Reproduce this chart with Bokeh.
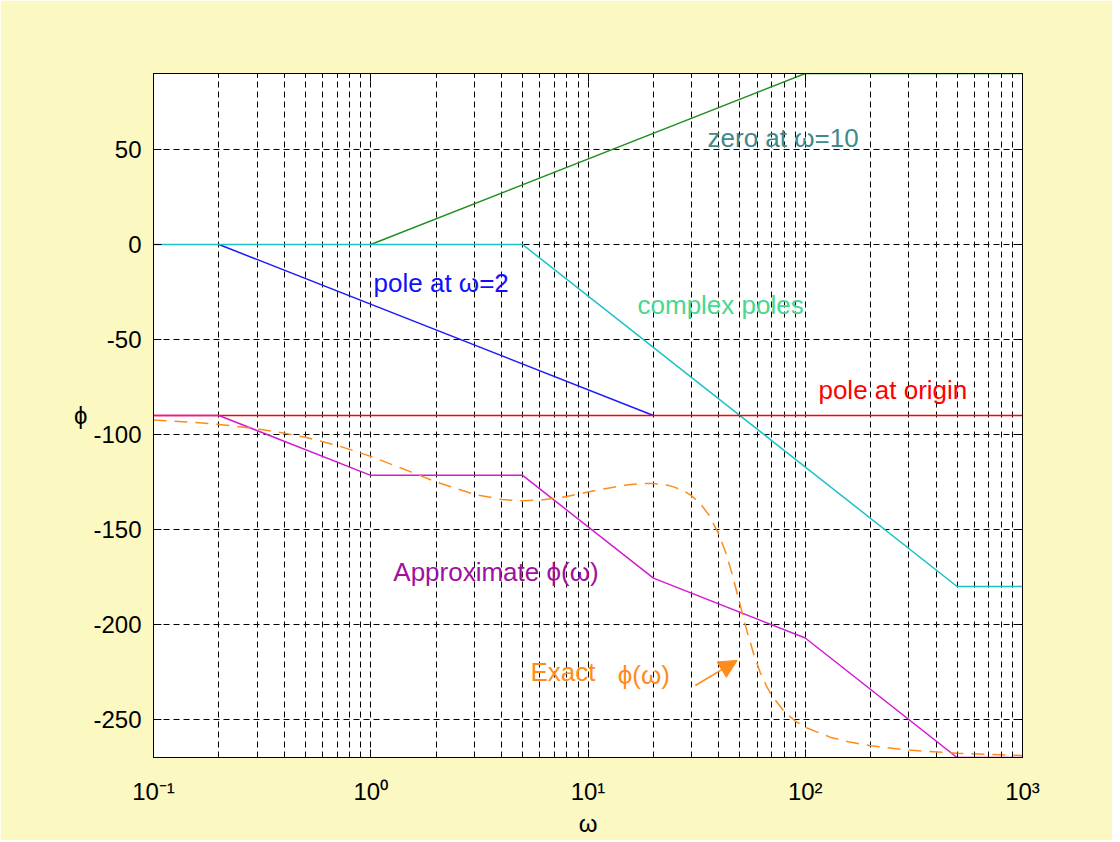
from bokeh.plotting import figure
from bokeh.models import (FixedTicker, LinearAxis, LogAxis, Range1d,
                          CustomJSTickFormatter, Arrow, NormalHead, ColumnDataSource)
from bokeh.core.properties import value
from bokeh.embed import file_html
from bokeh.resources import INLINE

# ---------------- data ----------------
x_major = [0.1, 1, 10, 100, 1000]
x_minor = [0.2, 0.3, 0.4, 0.5, 0.6, 0.7, 0.8, 0.9,
           2, 3, 4, 5, 6, 7, 8, 9,
           20, 30, 40, 50, 60, 70, 80, 90,
           200, 300, 400, 500, 600, 700, 800, 900]
y_ticks = [-250, -200, -150, -100, -50, 0, 50]

origin_w = [0.1, 1000]
origin_phi = [-90, -90]

pole2_w = [0.2, 20]
pole2_phi = [0, -90]

zero10_w = [1, 100, 1000]
zero10_phi = [0, 90, 90]

cplx_w = [0.1, 5, 500, 1000]
cplx_phi = [0, 0, -180, -180]

approx_w = [0.1, 0.2, 1, 5, 20, 100, 500, 1000]
approx_phi = [-90, -90, -121.5, -121.5, -175.6, -207.1, -270, -270]

exact_w = [0.1, 0.15, 0.2, 0.3, 0.4, 0.5, 0.7, 1, 1.5, 2, 3, 4, 5, 6, 7, 8, 10,
           12, 15, 18, 20, 23, 25, 28, 30, 33, 36, 40, 43, 46, 50, 54, 58, 62,
           66, 70, 80, 90, 100, 130, 160, 200, 300, 500, 700, 1000]
exact_phi = [-92.4, -93.5, -94.7, -97.0, -99.3, -101.5, -105.7, -111.5, -119.3,
             -125.0, -131.5, -134.2, -134.9, -134.5, -133.6, -132.6, -130.3,
             -128.5, -126.6, -125.8, -125.8, -126.6, -127.7, -130.1, -132.3,
             -136.6, -142.3, -152.4, -162.0, -173.2, -189.0, -203.8, -215.8,
             -225.1, -232.0, -237.3, -245.8, -250.8, -254.1, -259.3, -261.9,
             -263.8, -266.1, -267.7, -268.4, -268.9]

label_text = ["zero at \u03c9=10", "pole at \u03c9=2", "complex poles",
              "pole at origin", "Approximate \u03d5(\u03c9)", "Exact", "\u03d5(\u03c9)"]
label_w = [35.5, 1.03, 16.9, 115, 1.27, 5.43, 13.7]
label_phi = [55.8, -20.0, -32.0, -76.8, -172.6, -225.0, -226.5]
label_color = ["#3f8a8a", "#1010ff", "#48d890", "#ff0000", "#a010a0",
               "#ff8c1a", "#ff8c1a"]

# arrow pointing at the exact curve
arrow_from = (31.2, -232.1)
arrow_to = (48.6, -218.9)

# ---------------- styling ----------------
YELLOW = "#fbf8c2"
FONT = "Liberation Sans"
W, H = 1112, 840

p = figure(width=W, height=H, x_axis_type="log",
           x_range=Range1d(0.1, 1000), y_range=Range1d(-270, 90),
           output_backend="svg", toolbar_location=None,
           background_fill_color="white", border_fill_color=YELLOW,
           min_border_left=153, min_border_right=90,
           min_border_top=73, min_border_bottom=83)
p.outline_line_color = "black"
p.outline_line_width = 1

xt = FixedTicker(ticks=x_major, minor_ticks=x_minor)
yt = FixedTicker(ticks=y_ticks)

xfmt = CustomJSTickFormatter(code="""
const sup = {"-1": "\\u207b\\u00b9", "0": "\\u2070", "1": "\\u00b9", "2": "\\u00b2", "3": "\\u00b3"};
const e = Math.round(Math.log10(tick));
return "10" + sup[String(e)];
""")
yfmt = CustomJSTickFormatter(code="return String(Math.round(tick));")

# grids
for g, t in ((p.xgrid[0], xt), (p.ygrid[0], yt)):
    g.ticker = t
    g.grid_line_color = "black"
    g.grid_line_dash = "6 4"
    g.grid_line_width = 1
p.xgrid[0].minor_grid_line_color = "black"
p.xgrid[0].minor_grid_line_dash = "6 4"
p.xgrid[0].minor_grid_line_width = 1


def style_axis(ax):
    ax.axis_line_color = "black"
    ax.major_tick_line_color = "black"
    ax.minor_tick_line_color = "black"
    ax.major_tick_in = 8
    ax.major_tick_out = 0
    ax.minor_tick_in = 4
    ax.minor_tick_out = 0
    ax.major_label_text_font = FONT
    ax.major_label_text_font_size = "24px"
    ax.major_label_text_color = "black"
    ax.axis_label_text_font = FONT
    ax.axis_label_text_font_size = "24px"
    ax.axis_label_text_font_style = "normal"
    ax.axis_label_text_color = "black"


xa = p.xaxis[0]
xa.ticker = xt
xa.formatter = xfmt
style_axis(xa)
xa.major_label_standoff = 20
xa.axis_label = "\u03c9"
xa.axis_label_standoff = 2

ya = p.yaxis[0]
ya.ticker = yt
ya.formatter = yfmt
style_axis(ya)
ya.major_label_standoff = 12
ya.axis_label = "\u03d5"
ya.axis_label_standoff = 3
if "axis_label_orientation" in ya.properties():
    ya.axis_label_orientation = "horizontal"

top = LogAxis(ticker=xt)
style_axis(top)
top.major_label_text_color = None
p.add_layout(top, "above")

right = LinearAxis(ticker=yt)
style_axis(right)
right.major_label_text_color = None
p.add_layout(right, "right")

# ---------------- curves ----------------
LW = 1.5
p.line(pole2_w, pole2_phi, line_color="#1a1aff", line_width=LW)
p.line(zero10_w, zero10_phi, line_color="#1f8f1f", line_width=LW)
p.line(cplx_w, cplx_phi, line_color="#19c3c8", line_width=LW)
p.line(origin_w, origin_phi, line_color="#ff0000", line_width=LW)
p.line(approx_w, approx_phi, line_color="#d21ad2", line_width=LW)
p.line(exact_w, exact_phi, line_color="#ff8c1a", line_width=LW, line_dash="13 8")

src = ColumnDataSource(dict(x=label_w, y=label_phi, t=label_text, c=label_color))
p.text(x="x", y="y", text="t", text_color="c", source=src,
       text_font=value(FONT), text_font_size="26px",
       text_align="left", text_baseline="middle")

p.add_layout(Arrow(x_start=arrow_from[0], y_start=arrow_from[1],
                   x_end=arrow_to[0], y_end=arrow_to[1],
                   line_color="#ff8c1a", line_width=1.6,
                   end=NormalHead(size=18, fill_color="#ff8c1a",
                                  line_color="#ff8c1a")))

open("out.html", "w").write(file_html(p, INLINE))
